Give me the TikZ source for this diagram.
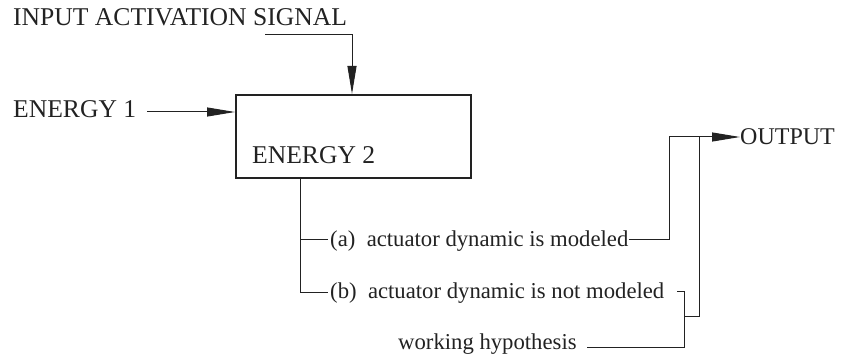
\documentclass[tikz,border=0pt]{standalone}
\usepackage{fontspec}
\setmainfont{Liberation Serif}
\usetikzlibrary{arrows.meta}
\definecolor{ink}{HTML}{222222}
\begin{document}
\begin{tikzpicture}[x=1pt,y=1pt,
  lbl/.style={inner sep=0pt,anchor=base west,text=ink,font=\fontsize{25.6}{30}\selectfont},
  sml/.style={inner sep=0pt,anchor=base west,text=ink,font=\fontsize{22.7}{27}\selectfont},
  wire/.style={draw=ink,line width=1pt},
  arr/.style={wire,-{Triangle[length=28pt,width=9pt]}},
  boxst/.style={draw=ink,line width=1.6pt,minimum width=235pt,minimum height=83pt,inner sep=0pt}]
\useasboundingbox (0,0) rectangle (843,356);
% box
\node[boxst,anchor=north west] (box) at (235,262) {};
\node[lbl] (e2) at (252,192) {ENERGY 2};
% input signal
\node[lbl] (ias) at (13,330) {INPUT ACTIVATION SIGNAL};
\coordinate (iasA) at (265,321);
\coordinate (iasB) at (352,321);
\draw[arr] (iasA) -- (iasB) -- (iasB |- box.north);
% energy 1
\node[lbl] (e1) at (13,238) {ENERGY 1};
\coordinate (e1s) at (147,244);
\draw[arr] (e1s) -- (e1s -| box.west);
% branches
\coordinate (trunk) at (300,179);
\coordinate (ja) at (300,116);
\coordinate (jb) at (300,63);
\node[sml] (ta) at (330,109) {(a)\ \ actuator dynamic is modeled};
\node[sml] (tb) at (330,57) {(b)\ \ actuator dynamic is not modeled};
\node[sml] (wh) at (398,6) {working hypothesis};
\draw[wire] (trunk) -- (jb) -- ++(28,0);
\draw[wire] (ja) -- ++(28,0);
% output
\node[lbl,font=\fontsize{24}{28}\selectfont] (out) at (740,211) {OUTPUT};
\coordinate (ca) at (669,116);
\coordinate (co) at (669,219);
\draw[wire] (ta.east |- ca) -- (ca) -- (co);
\draw[arr] (co) -- (out.west |- co);
\coordinate (cv) at (699,219);
\coordinate (cvb) at (699,39);
\draw[wire] (cv) -- (cvb) -- (684,39);
% bracket
\coordinate (bt) at (677,64);
\coordinate (bb) at (684,9);
\draw[wire] (bt) -- (684,64) -- (bb) -- (587,9);
\end{tikzpicture}
\end{document}
